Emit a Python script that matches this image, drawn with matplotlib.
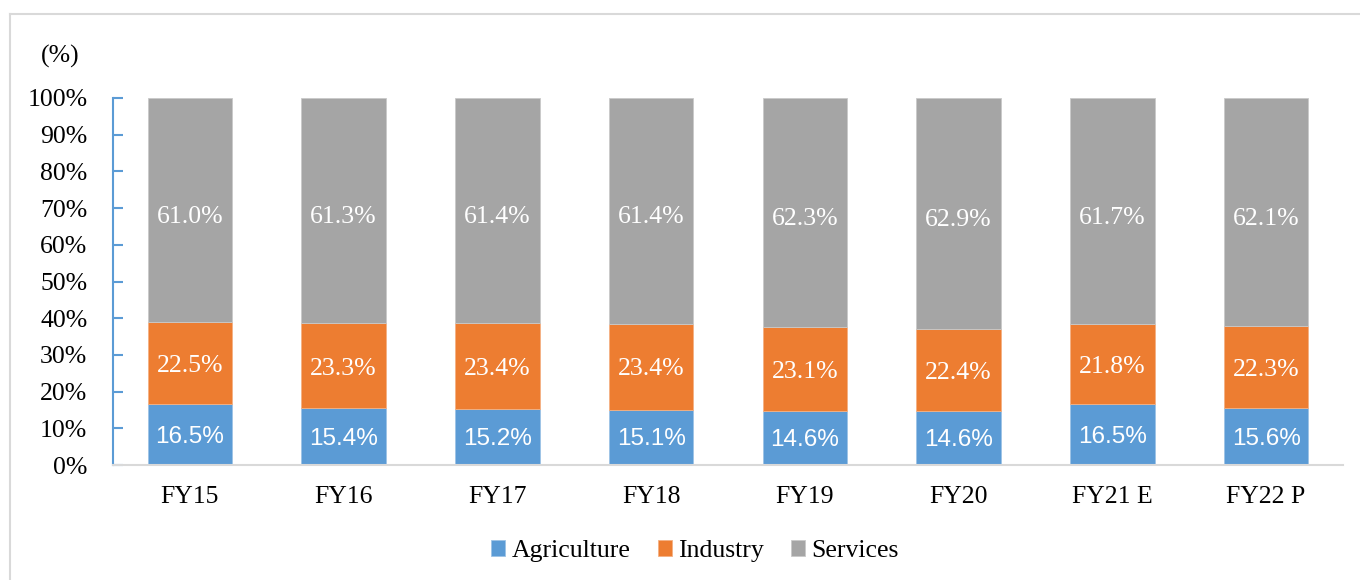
import matplotlib.pyplot as plt
import numpy as np
from matplotlib.lines import Line2D

years = ["FY15", "FY16", "FY17", "FY18", "FY19", "FY20", "FY21 E", "FY22 P"]
agriculture = [16.5, 15.4, 15.2, 15.1, 14.6, 14.6, 16.5, 15.6]
industry = [22.5, 23.3, 23.4, 23.4, 23.1, 22.4, 21.8, 22.3]
services = [61.0, 61.3, 61.4, 61.4, 62.3, 62.9, 61.7, 62.1]

serif = "Liberation Serif"
sans = "Liberation Sans"

# 100% stacked: normalise each year
tot = np.array(agriculture) + np.array(industry) + np.array(services)
agr_n = np.array(agriculture) / tot * 100
ind_n = np.array(industry) / tot * 100
ser_n = np.array(services) / tot * 100

fig = plt.figure(figsize=(13.6, 5.8), dpi=100)
ax = fig.add_axes([113 / 1360, 115 / 580, 1230 / 1360, 367 / 580])

x = np.arange(len(years))
w = 0.55
b1 = ax.bar(x, agr_n, w, color="#5B9BD5", edgecolor="#9DC3E6", linewidth=0.6, label="Agriculture")
b2 = ax.bar(x, ind_n, w, bottom=agr_n, color="#ED7D31", edgecolor="#F4B183", linewidth=0.6, label="Industry")
b3 = ax.bar(x, ser_n, w, bottom=agr_n + ind_n, color="#A5A5A5", edgecolor="#C9C9C9", linewidth=0.6, label="Services")

for i in range(len(years)):
    ax.text(x[i], agr_n[i] / 2 - 0.6, f"{agriculture[i]:.1f}%", ha="center", va="center",
            color="white", fontsize=17.5, family=sans)
    ax.text(x[i], agr_n[i] + ind_n[i] / 2 - 0.8, f"{industry[i]:.1f}%", ha="center", va="center",
            color="white", fontsize=18.5, family=serif)
    ax.text(x[i], agr_n[i] + ind_n[i] + ser_n[i] / 2 - 1.8, f"{services[i]:.1f}%", ha="center", va="center",
            color="white", fontsize=18.5, family=serif)

ax.set_xlim(-0.5, len(years) - 0.5)
ax.set_ylim(0, 100)
ax.set_yticks(range(0, 101, 10))
ax.set_yticklabels([f"{v}%" for v in range(0, 101, 10)], family=serif, fontsize=18.5)
ax.set_xticks(x)
ax.set_xticklabels(years, family=serif, fontsize=18.5)
ax.tick_params(axis="y", direction="in", length=7, color="#5B9BD5", width=1.5, pad=18.5)
ax.tick_params(axis="x", length=0, pad=15)

for s in ["top", "right"]:
    ax.spines[s].set_visible(False)
ax.spines["left"].set_color("#5B9BD5")
ax.spines["left"].set_linewidth(1.5)
ax.spines["bottom"].set_color("#D9D9D9")
ax.spines["bottom"].set_linewidth(1.5)

fig.text(60 / 1360, 1 - 56 / 580, "(%)", ha="center", va="center", family=serif, fontsize=18.5)

leg = fig.legend(handles=[b1, b2, b3], loc="center", bbox_to_anchor=(695 / 1360, 1 - 551 / 580),
                 ncol=3, frameon=False, prop={"family": serif, "size": 18.5},
                 handlelength=0.55, handleheight=0.55, handletextpad=0.25, columnspacing=1.05)

# chart frame
fig.add_artist(Line2D([10 / 1360, 10 / 1360], [0, 1 - 14 / 580], transform=fig.transFigure, color="#D9D9D9", lw=1.5))
fig.add_artist(Line2D([10 / 1360, 1], [1 - 14 / 580, 1 - 14 / 580], transform=fig.transFigure, color="#D9D9D9", lw=1.5))

fig.savefig("out.png", dpi=100)
